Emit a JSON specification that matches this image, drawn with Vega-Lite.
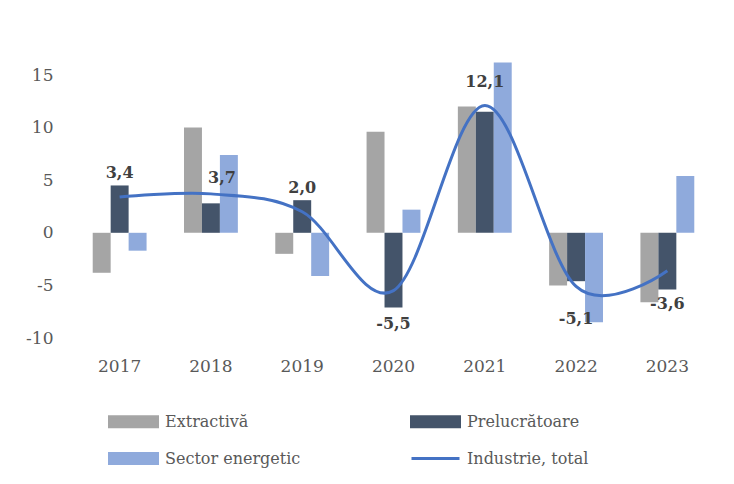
{
  "$schema": "https://vega.github.io/schema/vega-lite/v6.json",
  "width": 639,
  "height": 263,
  "autosize": {"type": "none"},
  "padding": {"left": 74, "top": 75, "right": 21, "bottom": 146},
  "background": "white",
  "datasets": {
    "bars": [
      {"year": "2017", "series": "Extractivă", "value": -3.8},
      {"year": "2017", "series": "Prelucrătoare", "value": 4.5},
      {"year": "2017", "series": "Sector energetic", "value": -1.7},
      {"year": "2018", "series": "Extractivă", "value": 10.0},
      {"year": "2018", "series": "Prelucrătoare", "value": 2.8},
      {"year": "2018", "series": "Sector energetic", "value": 7.4},
      {"year": "2019", "series": "Extractivă", "value": -2.0},
      {"year": "2019", "series": "Prelucrătoare", "value": 3.1},
      {"year": "2019", "series": "Sector energetic", "value": -4.1},
      {"year": "2020", "series": "Extractivă", "value": 9.6},
      {"year": "2020", "series": "Prelucrătoare", "value": -7.1},
      {"year": "2020", "series": "Sector energetic", "value": 2.2},
      {"year": "2021", "series": "Extractivă", "value": 12.0},
      {"year": "2021", "series": "Prelucrătoare", "value": 11.5},
      {"year": "2021", "series": "Sector energetic", "value": 16.2},
      {"year": "2022", "series": "Extractivă", "value": -5.0},
      {"year": "2022", "series": "Prelucrătoare", "value": -4.6},
      {"year": "2022", "series": "Sector energetic", "value": -8.5},
      {"year": "2023", "series": "Extractivă", "value": -6.6},
      {"year": "2023", "series": "Prelucrătoare", "value": -5.4},
      {"year": "2023", "series": "Sector energetic", "value": 5.4}
    ],
    "total": [
      {"year": "2017", "series": "Industrie, total", "value": 3.4},
      {"year": "2018", "series": "Industrie, total", "value": 3.7},
      {"year": "2019", "series": "Industrie, total", "value": 2.0},
      {"year": "2020", "series": "Industrie, total", "value": -5.5},
      {"year": "2021", "series": "Industrie, total", "value": 12.1},
      {"year": "2022", "series": "Industrie, total", "value": -5.1},
      {"year": "2023", "series": "Industrie, total", "value": -3.6}
    ]
  },
  "encoding": {
    "x": {
      "field": "year", "type": "nominal", "title": null,
      "scale": {"paddingInner": 0.41, "paddingOuter": 0.205},
      "axis": {"labelAngle": 0, "domain": false, "ticks": false, "labelPadding": 20, "labelFontSize": 17, "labelFont": "DejaVu Serif", "labelColor": "#595959"}
    }
  },
  "layer": [
    {
      "mark": {"type": "rule", "color": "#D9D9D9", "strokeWidth": 2},
      "encoding": {"y": {"datum": 0, "type": "quantitative"}, "x": null}
    },
    {
      "data": {"name": "bars"},
      "mark": {"type": "bar"},
      "encoding": {
        "xOffset": {"field": "series", "type": "nominal", "sort": ["Extractivă", "Prelucrătoare", "Sector energetic"], "scale": {"paddingInner": 0, "paddingOuter": 0}},
        "y": {
          "field": "value", "type": "quantitative", "title": null,
          "scale": {"domain": [-10, 15], "nice": false, "zero": false},
          "axis": {"values": [-10, -5, 0, 5, 10, 15], "grid": false, "domain": false, "ticks": false, "labelPadding": 21, "labelFontSize": 17, "labelFont": "DejaVu Serif", "labelColor": "#595959", "format": "d"}
        },
        "color": {
          "field": "series", "type": "nominal",
          "scale": {"domain": ["Extractivă", "Prelucrătoare", "Sector energetic", "Industrie, total"], "range": ["#A5A5A5", "#44546A", "#8FAADC", "#4472C4"]},
          "legend": {
            "title": null, "orient": "none", "legendX": 34, "legendY": 321, "columns": 2, "direction": "horizontal",
            "columnPadding": 104, "rowPadding": -13, "padding": 0,
            "labelFont": "DejaVu Serif", "labelFontSize": 16, "labelColor": "#595959", "labelOffset": 6,
            "symbolSize": 2304, "symbolStrokeWidth": 3,
            "encode": {
              "symbols": {
                "update": {
                  "shape": [{"test": "datum.value === 'Industrie, total'", "value": "stroke"}, {"value": "M-1,-0.21H1V0.21H-1Z"}],
                  "fill": [{"test": "datum.value === 'Industrie, total'", "value": "transparent"}, {"test": "datum.value === 'Extractivă'", "value": "#A5A5A5"}, {"test": "datum.value === 'Prelucrătoare'", "value": "#44546A"}, {"value": "#8FAADC"}],
                  "stroke": [{"test": "datum.value === 'Industrie, total'", "value": "#4472C4"}, {"value": "transparent"}],
                  "strokeWidth": {"value": 3},
                  "opacity": {"value": 1}
                }
              }
            }
          }
        }
      }
    },
    {
      "data": {"name": "total"},
      "mark": {"type": "line", "interpolate": "cardinal", "strokeWidth": 3},
      "encoding": {
        "y": {"field": "value", "type": "quantitative"},
        "color": {"field": "series", "type": "nominal"}
      }
    },
    {
      "data": {"name": "total"},
      "transform": [{"filter": "datum.value >= 0 && datum.year !== '2018'"}],
      "mark": {"type": "text", "dy": -24, "font": "DejaVu Serif", "fontSize": 16, "fontWeight": "bold", "color": "#404040"},
      "encoding": {
        "y": {"field": "value", "type": "quantitative"},
        "text": {"field": "value", "type": "quantitative", "format": ".1f"}
      }
    },
    {
      "data": {"name": "total"},
      "transform": [{"filter": "datum.year === '2018'"}],
      "mark": {"type": "text", "dy": -16, "dx": 11, "font": "DejaVu Serif", "fontSize": 16, "fontWeight": "bold", "color": "#404040"},
      "encoding": {
        "y": {"field": "value", "type": "quantitative"},
        "text": {"field": "value", "type": "quantitative", "format": ".1f"}
      }
    },
    {
      "data": {"name": "total"},
      "transform": [{"filter": "datum.value < 0"}],
      "mark": {"type": "text", "dy": 33, "font": "DejaVu Serif", "fontSize": 16, "fontWeight": "bold", "color": "#404040"},
      "encoding": {
        "y": {"field": "value", "type": "quantitative"},
        "text": {"field": "value", "type": "quantitative", "format": ".1f"}
      }
    }
  ],
  "config": {
    "view": {"stroke": null},
    "locale": {"number": {"decimal": ",", "thousands": ".", "grouping": [3], "currency": ["", ""], "minus": "-"}}
  }
}
